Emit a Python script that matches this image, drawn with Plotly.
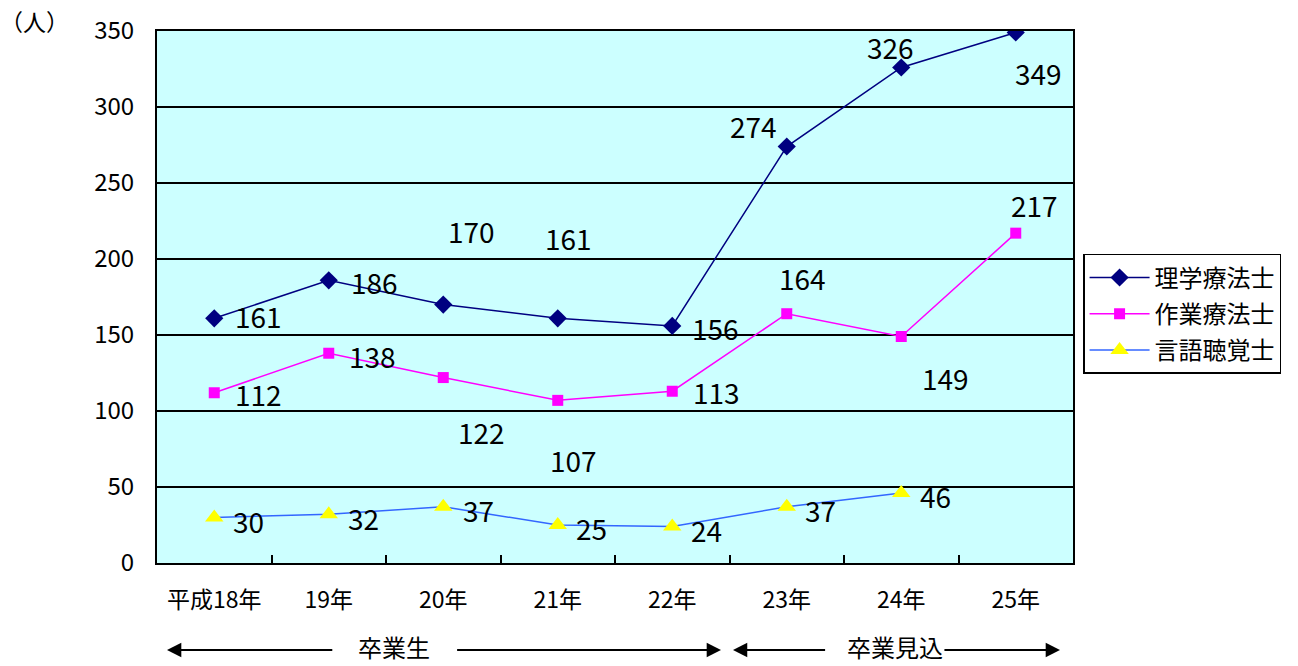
import plotly.graph_objects as go

# 年度ラベル
years = ["平成18年", "19年", "20年", "21年", "22年", "23年", "24年", "25年"]

# 職種別人数
pt_values = [161, 186, 170, 161, 156, 274, 326, 349]   # 理学療法士
ot_values = [112, 138, 122, 107, 113, 164, 149, 217]   # 作業療法士
st_values = [30, 32, 37, 25, 24, 37, 46]               # 言語聴覚士 (25年なし)

series_names = ["理学療法士", "作業療法士", "言語聴覚士"]

# ラベル位置のずらし量 (px): (右方向, 上方向)
pt_label_shift = [(44, 2), (46, -2), (28, 74), (11, 80), (43, -2), (-33, 21), (-11, 20), (23, -40)]
ot_label_shift = [(44, -1), (44, -3), (38, -54), (16, -60), (44, -1), (16, 36), (44, -41), (19, 28)]
st_label_shift = [(34, -4), (35, -4), (35, -3), (34, -3), (34, -3), (34, -3), (34, -3)]

jp_font = "Noto Sans CJK JP, sans-serif"

fig = go.Figure()

fig.add_trace(go.Scatter(
    x=years, y=pt_values, name=series_names[0], mode="lines+markers",
    legendgroup="pt",
    line=dict(color="#000080", width=1.5),
    marker=dict(symbol="diamond", size=14, color="#000080"),
))
fig.add_trace(go.Scatter(
    x=years, y=ot_values, name=series_names[1], mode="lines+markers",
    legendgroup="ot",
    line=dict(color="#FF00FF", width=1.5),
    marker=dict(symbol="square", size=11, color="#FF00FF"),
))
fig.add_trace(go.Scatter(
    x=years[:len(st_values)], y=st_values, name=series_names[2], mode="lines+markers",
    legendgroup="st",
    line=dict(color="#3366FF", width=1.5),
    marker=dict(symbol="triangle-up", size=16, color="#FFFF00"),
))

annotations = []
for vals, shifts in ((pt_values, pt_label_shift), (ot_values, ot_label_shift), (st_values, st_label_shift)):
    for i, v in enumerate(vals):
        dx, dy = shifts[i]
        annotations.append(dict(
            x=years[i], y=v, xref="x", yref="y", text=str(v), showarrow=False,
            xanchor="center", yanchor="middle",
            xshift=dx, yshift=dy, font=dict(family=jp_font, size=28, color="black"),
        ))

# 単位
annotations.append(dict(
    x=-0.174, y=1.018, xref="paper", yref="paper", text="（人）", showarrow=False,
    xanchor="left", yanchor="middle", font=dict(family=jp_font, size=23, color="black"),
))

# 下部の区分表示
ay = -0.1635
for text, cx in (("卒業生", 0.259), ("卒業見込", 0.806)):
    annotations.append(dict(
        x=cx, y=-0.1936, xref="paper", yref="paper", text=text, showarrow=False,
        font=dict(family=jp_font, size=24, color="black"),
        xanchor="center", yanchor="bottom",
    ))

arrow_specs = [
    # (矢じり位置 x, 尾の位置 x) — プロット領域の幅を 0〜1 とした座標
    (0.0109, 0.193),
    (0.6157, 0.326),
    (0.6288, 0.731),
    (0.9858, 0.858),
]
for head, tail in arrow_specs:
    annotations.append(dict(
        x=head, y=ay, xref="x domain", yref="y domain",
        ax=tail, ay=ay, axref="x domain", ayref="y domain",
        text="", showarrow=True, arrowhead=2, arrowsize=1.3, arrowwidth=2.2,
        arrowcolor="black",
    ))

fig.update_layout(
    width=1298, height=666,
    margin=dict(l=157, r=225, t=31, b=103),
    paper_bgcolor="white",
    plot_bgcolor="#CCFFFF",
    showlegend=True,
    legend=dict(
        x=1.011, y=0.581, xanchor="left", yanchor="top",
        bgcolor="white", bordercolor="black", borderwidth=1.5,
        font=dict(family=jp_font, size=24, color="black"),
        tracegroupgap=2, itemwidth=60,
    ),
    annotations=annotations,
    font=dict(family=jp_font, color="black"),
)

fig.update_xaxes(
    type="category", categoryorder="array", categoryarray=years,
    showgrid=False, showline=True, linecolor="black", linewidth=2, mirror=True,
    ticks="inside", tickson="boundaries", ticklen=8, tickcolor="black", tickwidth=1.5,
    tickfont=dict(family=jp_font, size=23, color="black"),
    ticklabelstandoff=15,
    range=[-0.5, 7.5],
)
fig.update_yaxes(
    range=[0, 350], dtick=50, tick0=0,
    showgrid=True, gridcolor="black", gridwidth=1.5,
    showline=True, linecolor="black", linewidth=2, mirror=True,
    zeroline=False, ticks="",
    tickfont=dict(family=jp_font, size=24, color="black"),
    ticklabelstandoff=16,
)

fig.write_html("out.html")
